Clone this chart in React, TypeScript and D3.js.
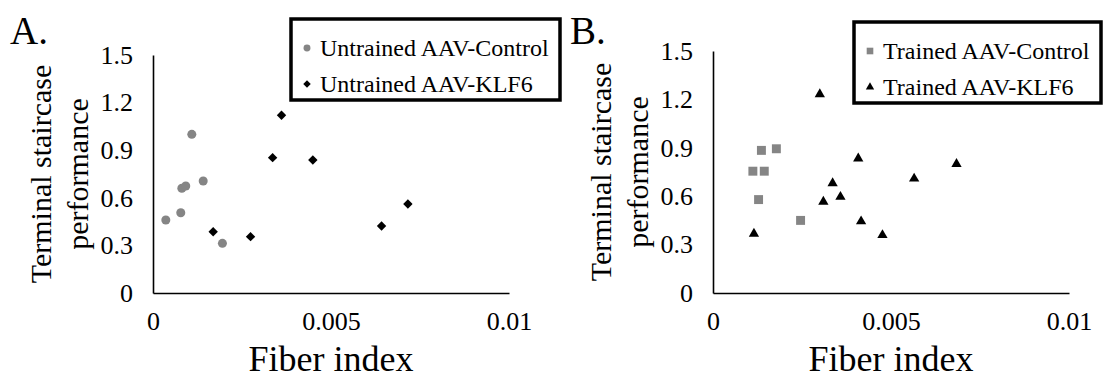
import { useRef, useEffect } from "react";
import * as d3 from "d3";

// Panel A: untrained groups
const untrainedControlX = [0.00036, 0.00078, 0.00081, 0.00092, 0.00109, 0.00141, 0.00195];
const untrainedControlY = [0.46, 0.506, 0.66, 0.674, 1.0, 0.706, 0.313];
const untrainedKlf6X = [0.00169, 0.00274, 0.00336, 0.00361, 0.00449, 0.00642, 0.00716];
const untrainedKlf6Y = [0.386, 0.355, 0.853, 1.12, 0.838, 0.422, 0.561];

// Panel B: trained groups
const trainedControlX = [0.00112, 0.00128, 0.00136, 0.00144, 0.00178, 0.00246];
const trainedControlY = [0.755, 0.579, 0.884, 0.755, 0.894, 0.45];
const trainedKlf6X = [0.00115, 0.003, 0.0031, 0.00336, 0.00358, 0.00408, 0.00416, 0.00476, 0.00565, 0.00684];
const trainedKlf6Y = [0.367, 1.232, 0.566, 0.68, 0.596, 0.834, 0.444, 0.359, 0.709, 0.8];

const xTickValues = [0, 0.005, 0.01];
const xTickLabels = ["0", "0.005", "0.01"];
const yTickValues = [0, 0.3, 0.6, 0.9, 1.2, 1.5];
const yTickLabels = ["0", "0.3", "0.6", "0.9", "1.2", "1.5"];

const FONT = "'Liberation Serif', 'Times New Roman', serif";
const GRAY = "#858585";

type Shape = "circle" | "diamond" | "square" | "triangle";

function symbolPath(shape: Shape, big: boolean) {
  if (shape === "circle") return d3.symbol(d3.symbolCircle, big ? 64 : 38)()!;
  if (shape === "diamond") return d3.symbol(d3.symbolSquare, big ? 44 : 28)()!;
  if (shape === "square") return d3.symbol(d3.symbolSquare, big ? 80 : 44)()!;
  return d3.symbol(d3.symbolTriangle, big ? 46 : 30)()!;
}

function drawPanel(
  svg: d3.Selection<SVGSVGElement, unknown, null, undefined>,
  opt: {
    left: number;
    top: number;
    letter: string;
    letterX: number;
    titleX1: number;
    titleX2: number;
    legend: { x: number; y: number; w: number; h: number };
    series: { name: string; xs: number[]; ys: number[]; shape: Shape; color: string }[];
  }
) {
  const g = svg.append("g");
  const x = d3.scaleLinear().domain([0, 0.01]).range([opt.left, opt.left + 356]);
  const y = d3.scaleLinear().domain([0, 1.5]).range([293, opt.top]);

  const xAxis = g
    .append("g")
    .attr("transform", `translate(0,${y(0)})`)
    .call(
      d3
        .axisBottom(x)
        .tickValues(xTickValues)
        .tickFormat((_, i) => xTickLabels[i])
        .tickSize(0)
        .tickPadding(19)
    );
  const yAxis = g
    .append("g")
    .attr("transform", `translate(${x(0)},0)`)
    .call(
      d3
        .axisLeft(y)
        .tickValues(yTickValues)
        .tickFormat((_, i) => yTickLabels[i])
        .tickSize(0)
        .tickPadding(20)
    );
  [xAxis, yAxis].forEach((a) => {
    a.select(".domain").attr("stroke", "#000").attr("stroke-width", 1.6);
    a.selectAll("text").attr("font-family", FONT).attr("font-size", 26).attr("fill", "#000");
  });

  // titles
  g.append("text")
    .attr("x", (x(0) + x(0.01)) / 2)
    .attr("y", 371)
    .attr("text-anchor", "middle")
    .attr("font-family", FONT)
    .attr("font-size", 36)
    .text("Fiber index");
  const cy = (y(0) + y(1.5)) / 2;
  g.append("text")
    .attr("transform", `translate(${opt.titleX1},${cy}) rotate(-90)`)
    .attr("text-anchor", "middle")
    .attr("font-family", FONT)
    .attr("font-size", 30)
    .text("Terminal staircase");
  g.append("text")
    .attr("transform", `translate(${opt.titleX2},${cy}) rotate(-90)`)
    .attr("text-anchor", "middle")
    .attr("font-family", FONT)
    .attr("font-size", 30)
    .text("performance");
  g.append("text")
    .attr("x", opt.letterX)
    .attr("y", 44)
    .attr("font-family", FONT)
    .attr("font-size", 39)
    .text(opt.letter);

  // points
  opt.series.forEach((s) => {
    g.append("g")
      .selectAll("path")
      .data(s.xs.map((v, i) => [v, s.ys[i]]))
      .join("path")
      .attr("d", symbolPath(s.shape, true))
      .attr("transform", (d) => `translate(${x(d[0])},${y(d[1])})${s.shape === "diamond" ? " rotate(45)" : ""}`)
      .attr("fill", s.color);
  });

  // legend
  const L = opt.legend;
  g.append("rect")
    .attr("x", L.x)
    .attr("y", L.y)
    .attr("width", L.w)
    .attr("height", L.h)
    .attr("fill", "#fff")
    .attr("stroke", "#000")
    .attr("stroke-width", 3.5);
  opt.series.forEach((s, i) => {
    const ly = L.y + 29 + i * 36;
    g.append("path")
      .attr("d", symbolPath(s.shape, false))
      .attr("transform", `translate(${L.x + 16},${ly})${s.shape === "diamond" ? " rotate(45)" : ""}`)
      .attr("fill", s.color);
    g.append("text")
      .attr("x", L.x + 29)
      .attr("y", ly + 8)
      .attr("font-family", FONT)
      .attr("font-size", 24)
      .text(s.name);
  });
}

export default function App() {
  const ref = useRef<SVGSVGElement>(null);
  useEffect(() => {
    if (!ref.current) return;
    const svg = d3.select(ref.current);
    svg.selectAll("*").remove();

    drawPanel(svg, {
      left: 153,
      top: 55,
      letter: "A.",
      letterX: 10,
      titleX1: 51,
      titleX2: 88,
      legend: { x: 291, y: 19, w: 269, h: 81 },
      series: [
        { name: "Untrained AAV-Control", xs: untrainedControlX, ys: untrainedControlY, shape: "circle", color: GRAY },
        { name: "Untrained AAV-KLF6", xs: untrainedKlf6X, ys: untrainedKlf6Y, shape: "diamond", color: "#000" },
      ],
    });
    drawPanel(svg, {
      left: 713,
      top: 51,
      letter: "B.",
      letterX: 570,
      titleX1: 611,
      titleX2: 648,
      legend: { x: 854, y: 22, w: 247, h: 81 },
      series: [
        { name: "Trained AAV-Control", xs: trainedControlX, ys: trainedControlY, shape: "square", color: GRAY },
        { name: "Trained AAV-KLF6", xs: trainedKlf6X, ys: trainedKlf6Y, shape: "triangle", color: "#000" },
      ],
    });
  }, []);

  return (
    <svg
      ref={ref}
      width={1105}
      height={381}
      style={{ position: "absolute", left: 0, top: 0, background: "#fff" }}
    />
  );
}
